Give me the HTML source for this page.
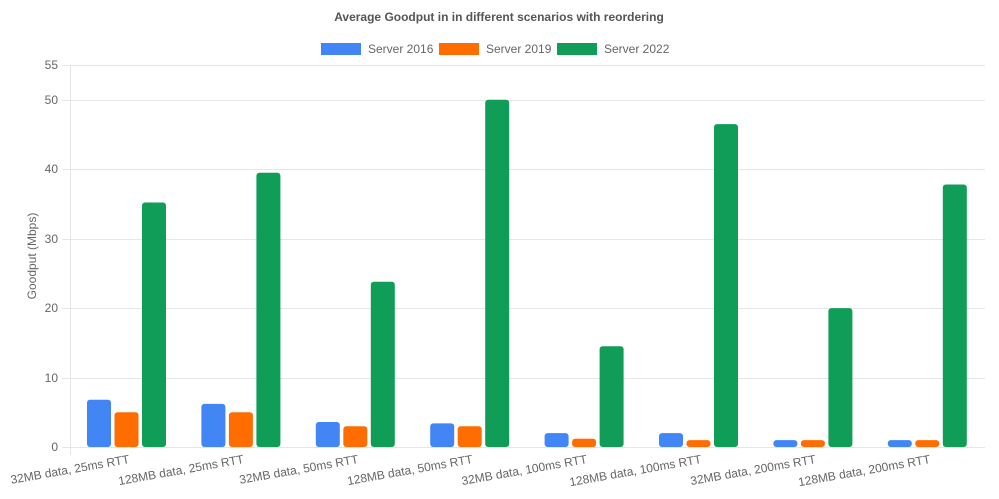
<!DOCTYPE html>
<html><head><meta charset="utf-8"><style>body{margin:0;background:#fff}svg{display:block;font-family:"Liberation Sans",Arial,sans-serif}</style></head>
<body>
<svg width="999" height="499" xmlns="http://www.w3.org/2000/svg">
<text x="499" y="21" text-anchor="middle" font-size="12" font-weight="bold" fill="#555">Average Goodput in in different scenarios with reordering</text>
<rect x="321" y="43" width="40" height="12" fill="#4285f4"/><text x="368" y="53" font-size="12" fill="#666">Server 2016</text>
<rect x="439" y="43" width="40" height="12" fill="#ff6d01"/><text x="486" y="53" font-size="12" fill="#666">Server 2019</text>
<rect x="557" y="43" width="40" height="12" fill="#0f9d58"/><text x="604" y="53" font-size="12" fill="#666">Server 2022</text>
<g stroke="#e6e6e6" stroke-width="1">
<line x1="62" x2="985" y1="65.5" y2="65.5"/><line x1="62" x2="985" y1="100.5" y2="100.5"/><line x1="62" x2="985" y1="169.5" y2="169.5"/><line x1="62" x2="985" y1="239.5" y2="239.5"/><line x1="62" x2="985" y1="308.5" y2="308.5"/><line x1="62" x2="985" y1="378.5" y2="378.5"/><line x1="62" x2="985" y1="447.5" y2="447.5"/><line x1="70.5" x2="70.5" y1="65" y2="455"/>
</g>
<g font-size="12" fill="#666" text-anchor="end">
<text x="58" y="69">55</text><text x="58" y="104">50</text><text x="58" y="173">40</text><text x="58" y="243">30</text><text x="58" y="312">20</text><text x="58" y="382">10</text><text x="58" y="451">0</text>
</g>
<text transform="translate(36,256) rotate(-90)" text-anchor="middle" font-size="12" fill="#666">Goodput (Mbps)</text>
<g>
<rect x="87" y="399.8" width="24" height="47.2" rx="3" fill="#4285f4"/><rect x="114.5" y="412.3" width="24" height="34.7" rx="3" fill="#ff6d01"/><rect x="142" y="202.5" width="24" height="244.5" rx="3" fill="#0f9d58"/>
<rect x="201.4" y="403.9" width="24" height="43.1" rx="3" fill="#4285f4"/><rect x="228.9" y="412.3" width="24" height="34.7" rx="3" fill="#ff6d01"/><rect x="256.4" y="172.7" width="24" height="274.3" rx="3" fill="#0f9d58"/>
<rect x="315.8" y="422" width="24" height="25" rx="3" fill="#4285f4"/><rect x="343.3" y="426.2" width="24" height="20.8" rx="3" fill="#ff6d01"/><rect x="370.8" y="281.7" width="24" height="165.3" rx="3" fill="#0f9d58"/>
<rect x="430.2" y="423.4" width="24" height="23.6" rx="3" fill="#4285f4"/><rect x="457.7" y="426.2" width="24" height="20.8" rx="3" fill="#ff6d01"/><rect x="485.2" y="99.7" width="24" height="347.3" rx="3" fill="#0f9d58"/>
<rect x="544.6" y="433.1" width="24" height="13.9" rx="3" fill="#4285f4"/><rect x="572.1" y="438.7" width="24" height="8.3" rx="3" fill="#ff6d01"/><rect x="599.6" y="346.3" width="24" height="100.7" rx="3" fill="#0f9d58"/>
<rect x="659" y="433.1" width="24" height="13.9" rx="3" fill="#4285f4"/><rect x="686.5" y="440.1" width="24" height="6.9" rx="3" fill="#ff6d01"/><rect x="714" y="124.1" width="24" height="322.9" rx="3" fill="#0f9d58"/>
<rect x="773.4" y="440.1" width="24" height="6.9" rx="3" fill="#4285f4"/><rect x="800.9" y="440.1" width="24" height="6.9" rx="3" fill="#ff6d01"/><rect x="828.4" y="308.1" width="24" height="138.9" rx="3" fill="#0f9d58"/>
<rect x="887.8" y="440.1" width="24" height="6.9" rx="3" fill="#4285f4"/><rect x="915.3" y="440.1" width="24" height="6.9" rx="3" fill="#ff6d01"/><rect x="942.8" y="184.5" width="24" height="262.5" rx="3" fill="#0f9d58"/>
</g>
<g font-size="12" fill="#666" text-anchor="end">
<text transform="translate(130,463) rotate(-10)">32MB data, 25ms RTT</text>
<text transform="translate(244.4,463) rotate(-10)">128MB data, 25ms RTT</text>
<text transform="translate(358.8,463) rotate(-10)">32MB data, 50ms RTT</text>
<text transform="translate(473.2,463) rotate(-10)">128MB data, 50ms RTT</text>
<text transform="translate(587.6,463) rotate(-10)">32MB data, 100ms RTT</text>
<text transform="translate(702,463) rotate(-10)">128MB data, 100ms RTT</text>
<text transform="translate(816.4,463) rotate(-10)">32MB data, 200ms RTT</text>
<text transform="translate(930.8,463) rotate(-10)">128MB data, 200ms RTT</text>
</g>
</svg>
</body></html>
